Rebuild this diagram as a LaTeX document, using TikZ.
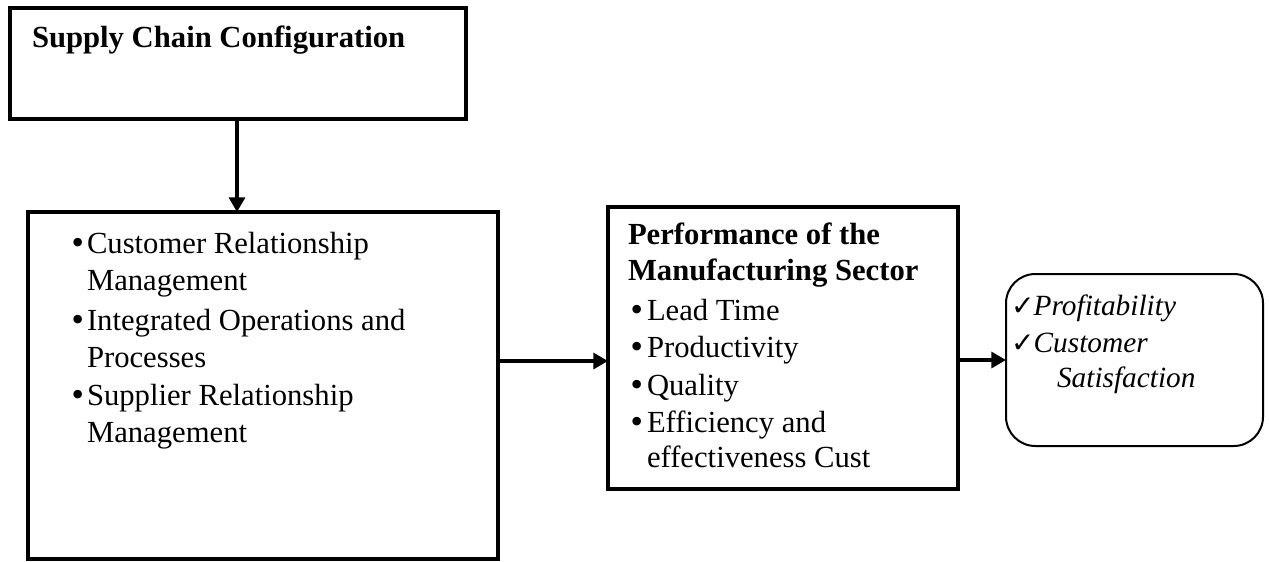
\documentclass[tikz,border=0pt]{standalone}
\usepackage{fontspec}
\setmainfont{Liberation Serif}
\newfontfamily\symfont{DejaVu Sans}
\usetikzlibrary{arrows.meta}
% bullet and check glyphs taken from DejaVu Sans
\newcommand{\blt}{{\symfont\fontsize{22}{27}\selectfont •}}
\newcommand{\chk}{{\upshape\symfont\fontsize{21}{27}\selectfont ✓}}
\begin{document}
\begin{tikzpicture}[x=0.75pt, y=-0.75pt,
  box/.style={draw, line width=3pt, rectangle, inner sep=0pt, outer sep=0pt},
  roundbox/.style={draw, line width=1.5pt, rectangle, rounded corners=22pt, inner sep=0pt, outer sep=0pt},
  arr/.style={line width=2.4pt, -{Triangle[length=11pt, width=12pt]}},
  txt/.style={anchor=base west, inner sep=0pt, outer sep=0pt, font=\fontsize{23}{27}\selectfont},
  btxt/.style={txt, font=\fontsize{23}{27}\selectfont\bfseries},
  itxt/.style={txt, font=\fontsize{22}{27}\selectfont\itshape}]
\useasboundingbox (0,0) rectangle (1269,561);

% boxes
\node[box, minimum width=456*0.75pt, minimum height=111*0.75pt] (b1) at (238,63.5) {};
\node[box, minimum width=470*0.75pt, minimum height=347*0.75pt] (b2) at (263,385.5) {};
\node[box, minimum width=350*0.75pt, minimum height=282*0.75pt] (b3) at (783,348) {};
\node[roundbox, minimum width=257*0.75pt, minimum height=172*0.75pt] (b4) at (1134.5,360) {};

% texts
\node[btxt] (t1) at (32,47) {Supply Chain Configuration};

\node[txt] (c1) at (69,253) {\makebox[13.5pt][l]{\blt}Customer Relationship};
\node[txt] (c2) at (87,290) {Management};
\node[txt] (c3) at (69,330) {\makebox[13.5pt][l]{\blt}Integrated Operations and};
\node[txt] (c4) at (87,367) {Processes};
\node[txt] (c5) at (69,405) {\makebox[13.5pt][l]{\blt}Supplier Relationship};
\node[txt] (c6) at (87,442) {Management};

\node[btxt] (p1) at (628,244) {Performance of the};
\node[btxt] (p2) at (628,280) {Manufacturing Sector};
\node[txt] (p3) at (628,320) {\makebox[14.25pt][l]{\blt}Lead Time};
\node[txt] (p4) at (628,357) {\makebox[14.25pt][l]{\blt}Productivity};
\node[txt] (p5) at (628,395) {\makebox[14.25pt][l]{\blt}Quality};
\node[txt] (p6) at (628,432) {\makebox[14.25pt][l]{\blt}Efficiency and};
\node[txt] (p7) at (647,467) {effectiveness Cust};

\node[itxt] (r1) at (1011,315) {\makebox[17pt][l]{\chk}Profitability};
\node[itxt] (r2) at (1011,352) {\makebox[17pt][l]{\chk}Customer};
\node[itxt] (r3) at (1057,387) {Satisfaction};

% connectors
\draw[arr] (b1.south -| 237,0) -- (b2.north -| 237,0);
\draw[arr] (b2.east |- 0,361) -- (b3.west |- 0,361);
\draw[arr] (b3.east |- b4.west) -- (b4.west);
\end{tikzpicture}
\end{document}
